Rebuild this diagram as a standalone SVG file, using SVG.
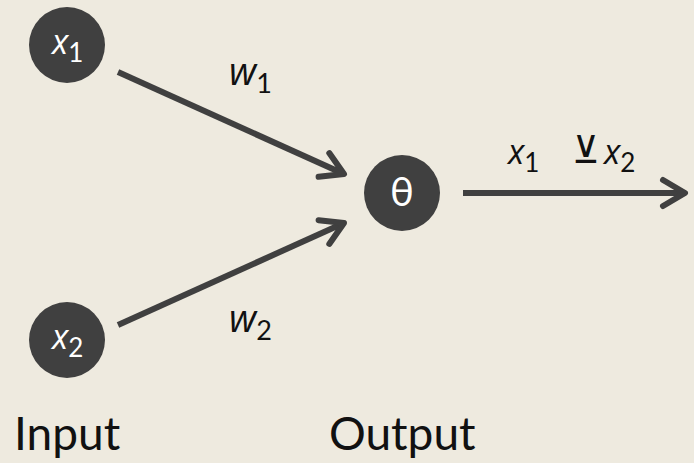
<svg xmlns="http://www.w3.org/2000/svg" width="694" height="463" viewBox="0 0 694 463">
<defs>
<style>
.node{fill:#404040}
.nt{fill:#fff;font-family:Lato,"Open Sans",sans-serif}
.lb{fill:#111;font-family:Lato,"Open Sans",sans-serif}
.it{font-style:italic;font-family:"Open Sans",sans-serif}
.edge{stroke:#404040;stroke-width:6;fill:none}
.head{stroke:#404040;stroke-width:6;fill:none;stroke-linecap:round;stroke-linejoin:round}
</style>
<marker id="arr" markerUnits="userSpaceOnUse" markerWidth="40" markerHeight="40" refX="28" refY="20" orient="auto" viewBox="0 0 40 40">
<path class="head" d="M6,7 L28,20 L6,33"/>
</marker>
</defs>
<rect width="694" height="463" fill="#eeeadf"/>
<g id="connectors">
<line class="edge" x1="118" y1="72" x2="344" y2="174" marker-end="url(#arr)"/>
<line class="edge" x1="118" y1="325" x2="344" y2="223" marker-end="url(#arr)"/>
<line class="edge" x1="463" y1="193" x2="685" y2="193" marker-end="url(#arr)"/>
</g>
<g id="node-x1">
<circle class="node" cx="67" cy="45" r="38"/>
<text class="nt" x="52" y="54" font-size="34"><tspan class="it">x</tspan><tspan font-size="26" dy="8">1</tspan></text>
</g>
<g id="node-x2">
<circle class="node" cx="67" cy="340" r="38"/>
<text class="nt" x="52" y="349" font-size="34"><tspan class="it">x</tspan><tspan font-size="26" dy="8">2</tspan></text>
</g>
<g id="node-theta">
<circle class="node" cx="402" cy="193" r="38"/>
<text class="nt" x="402" y="206" font-size="40" text-anchor="middle">θ</text>
</g>
<g id="labels">
<text class="lb" x="229" y="85" font-size="38"><tspan class="it">w</tspan><tspan font-size="27" dy="8">1</tspan></text>
<text class="lb" x="229" y="332" font-size="38"><tspan class="it">w</tspan><tspan font-size="27" dy="8">2</tspan></text>
<text class="lb" x="508" y="164" font-size="34"><tspan class="it">x</tspan><tspan font-size="26" dy="8">1</tspan></text>
<text class="lb" x="586" y="163" font-size="38" text-anchor="middle" font-family="DejaVu Sans,sans-serif" font-weight="200">⊻</text>
<text class="lb" x="604" y="164" font-size="34"><tspan class="it">x</tspan><tspan font-size="26" dy="8">2</tspan></text>
<text class="lb" x="14" y="450" font-size="46">Input</text>
<text class="lb" x="329" y="450" font-size="46">Output</text>
</g>
</svg>
